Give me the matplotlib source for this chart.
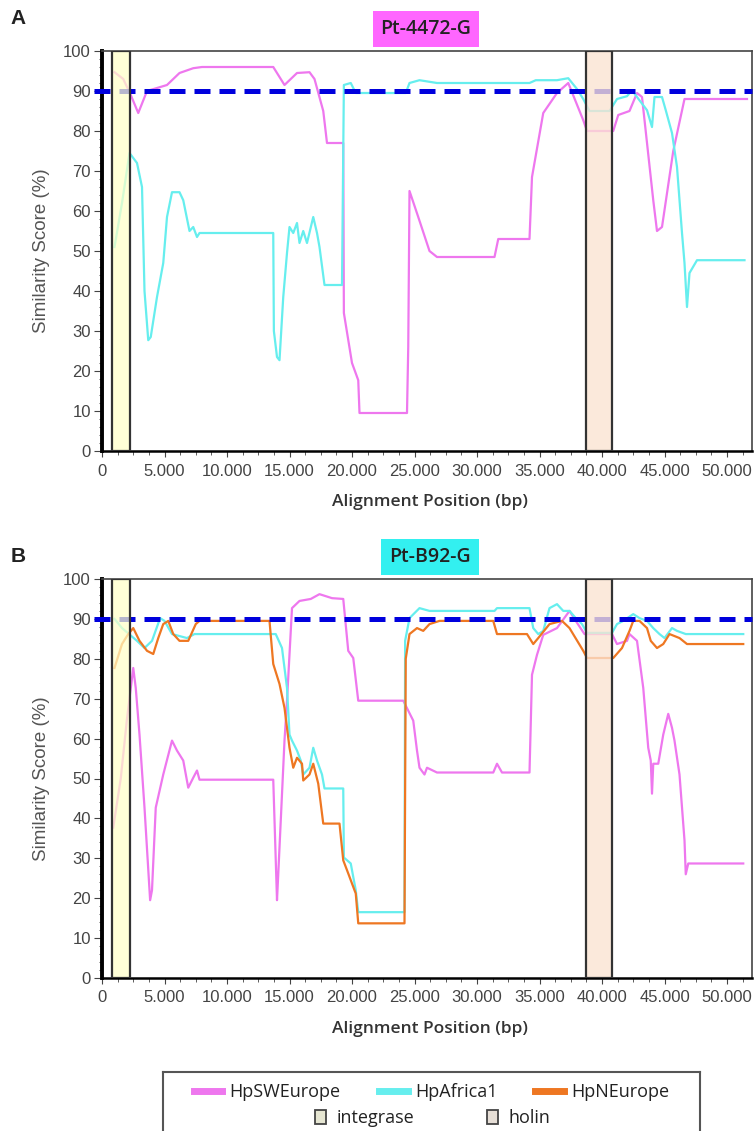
import numpy as np
import matplotlib
matplotlib.use("Agg")
import matplotlib.pyplot as plt
from matplotlib.patches import Rectangle, Patch
from matplotlib.lines import Line2D
from matplotlib.ticker import MultipleLocator, FuncFormatter
from matplotlib.colors import to_rgba

# DATA #
# (alignment position bp, similarity score %)
a_swe = [(1000, 94.7), (1700, 93), (2300, 89), (2900, 84.5), (3600, 90), (5200, 91.5),
         (6200, 94.5), (7300, 95.7), (8000, 96), (13700, 96), (14600, 91.5), (15600, 94.5),
         (16600, 94.7), (17000, 93), (17700, 85), (18000, 77), (19300, 77), (19350, 34.5),
         (20000, 22), (20500, 17.7), (20600, 9.5), (24400, 9.5), (24500, 26), (24600, 65),
         (25300, 58.5), (26200, 50), (26800, 48.5), (31400, 48.5), (31700, 53), (34200, 53),
         (34400, 68.5), (35300, 84.5), (36400, 89.5), (37300, 92), (38500, 82.7), (38800, 80),
         (40900, 80), (41300, 84), (42200, 85), (42800, 89.5), (43200, 88.5), (44100, 62.7),
         (44400, 55), (44800, 56), (45700, 75), (46600, 88), (51600, 88)]

a_afr = [(1000, 51), (1600, 62), (2200, 74.5), (2800, 72), (3200, 66), (3400, 40),
         (3700, 27.7), (3900, 28.5), (4400, 38.5), (4900, 47), (5200, 58.5), (5600, 64.7),
         (6200, 64.7), (6500, 62.7), (7000, 55), (7300, 56), (7600, 53.5), (7800, 54.5),
         (13700, 54.5), (13750, 30), (14000, 23.5), (14200, 22.7), (14500, 38.5), (14800, 49.5),
         (15000, 56), (15300, 54.5), (15600, 57), (15800, 52), (16100, 55), (16400, 52),
         (16900, 58.5), (17200, 54.5), (17400, 51), (17800, 41.5), (19200, 41.5), (19350, 91.5),
         (19900, 92), (20300, 89.5), (24300, 89.5), (24600, 92), (25400, 92.7), (26800, 92),
         (34200, 92), (34700, 92.7), (36400, 92.7), (37300, 93.2), (38000, 90.5), (38500, 88),
         (39000, 85), (40600, 85), (41200, 88), (42000, 88.7), (42400, 90.2), (42800, 88.5),
         (43600, 85.2), (44000, 81), (44200, 88.5), (44800, 88.5), (45100, 85.2), (45600, 79.5),
         (46000, 71), (46400, 54.5), (46600, 47), (46800, 36), (47000, 44.5), (47600, 47.7),
         (51400, 47.7)]

b_swe = [(900, 37.7), (1500, 50), (2000, 65), (2500, 77.7), (2700, 72.7), (3000, 61),
         (3400, 42.7), (3850, 19.5), (4000, 22), (4300, 42.7), (4900, 51), (5600, 59.5),
         (6000, 57), (6500, 54.5), (6900, 47.7), (7300, 50.2), (7600, 52), (7800, 49.7),
         (13700, 49.7), (14000, 19.5), (14100, 26), (14600, 59.5), (14800, 69.5), (15200, 92.7),
         (15800, 94.5), (16700, 95), (17400, 96.2), (18400, 95.2), (19300, 95), (19700, 82),
         (20100, 80.2), (20500, 69.5), (24100, 69.5), (24500, 67), (24900, 64.5), (25200, 57),
         (25400, 52.7), (25800, 51), (26000, 52.7), (26800, 51.5), (31300, 51.5), (31600, 53.7),
         (32000, 51.5), (34200, 51.5), (34400, 76), (34800, 81), (35300, 86), (36400, 87.7),
         (37400, 92), (37900, 89.5), (38600, 86.2), (40800, 86.2), (41200, 83.7), (42000, 84.5),
         (42200, 86.2), (42800, 84.5), (43300, 72.7), (43700, 57.7), (43900, 54.5), (44000, 46.2),
         (44100, 53.7), (44500, 53.7), (44900, 61), (45300, 66.2), (45600, 62.7), (45800, 59.5),
         (46200, 51), (46600, 34.5), (46700, 26), (46900, 28.7), (51300, 28.7)]

b_afr = [(1000, 90), (1600, 87.7), (2800, 84.5), (3400, 82.7), (4000, 84.5), (4650, 90.2),
         (5000, 89.5), (5600, 86.2), (6800, 85.2), (7400, 86.2), (13900, 86.2), (14400, 82.7),
         (14800, 72.7), (15000, 61), (15200, 59.5), (15600, 57), (15900, 54.5), (16100, 51),
         (16600, 52.7), (16900, 57.7), (17200, 54.5), (17600, 51), (17800, 47.5), (19300, 47.5),
         (19350, 30.2), (19900, 28.7), (20300, 22), (20500, 16.5), (24200, 16.5), (24250, 84.5),
         (24600, 90.2), (25400, 92.7), (26200, 92), (31400, 92), (31600, 92.7), (34200, 92.7),
         (34500, 87.7), (34900, 86.2), (35300, 87), (35800, 92.7), (36400, 93.7), (36900, 92),
         (37400, 92), (37900, 90.2), (38400, 88.7), (38800, 86.5), (40800, 86.5), (41200, 88.7),
         (41700, 89.5), (42500, 91.2), (43000, 90.2), (43600, 89.5), (44100, 87.7), (44600, 86.2),
         (45000, 85.2), (45600, 87.7), (46000, 87), (46700, 86.2), (51300, 86.2)]

b_neu = [(1000, 77.7), (1600, 83.7), (2100, 86.2), (2500, 87.7), (3000, 84.5), (3600, 82),
         (4100, 81.2), (4500, 85.2), (4900, 88.7), (5300, 89.5), (5700, 86.2), (6200, 84.5),
         (6900, 84.5), (7500, 88.7), (7800, 89.5), (13400, 89.5), (13700, 78.7), (14200, 73.7),
         (14600, 67.7), (15000, 57.7), (15300, 52.7), (15600, 55.2), (16000, 53.7), (16100, 49.5),
         (16600, 51), (16900, 53.7), (17300, 48.7), (17700, 38.7), (19000, 38.7), (19300, 29.5),
         (19700, 26.2), (20200, 22), (20300, 21.2), (20500, 13.7), (24200, 13.7), (24300, 80),
         (24600, 86.2), (25200, 87.7), (25700, 87), (26200, 88.7), (27000, 89.5), (31300, 89.5),
         (31600, 86.2), (34000, 86.2), (34500, 83.7), (34900, 85.2), (35800, 88.7), (36800, 89.5),
         (37400, 87.7), (38500, 82), (38800, 80.2), (40900, 80.2), (41600, 82.7), (42200, 87),
         (42500, 89.5), (43000, 89.5), (43600, 87.7), (43900, 84.5), (44400, 82.7), (44900, 83.7),
         (45400, 86.2), (46200, 85.2), (46800, 83.7), (51300, 83.7)]

# gene regions (bp) and threshold
integrase = (800, 2250)
holin = (38700, 40800)
threshold = 90

series_names = ['HpSWEurope', 'HpAfrica1', 'HpNEurope']
series_colors = ['#EE77EE', '#66EEEE', '#EE7722']

# PLOT #
fig = plt.figure(figsize=(7.55, 11.31), dpi=100)
W, H = 755, 1131


def fx(px):
    return px / W


def fy(py):
    return 1 - py / H


def setup_axis(ax):
    ax.set_xlim(0, 52000)
    ax.set_ylim(0, 100)
    ax.xaxis.set_major_locator(MultipleLocator(5000))
    ax.xaxis.set_minor_locator(MultipleLocator(1250))
    ax.yaxis.set_major_locator(MultipleLocator(10))
    ax.yaxis.set_minor_locator(MultipleLocator(2))
    ax.xaxis.set_major_formatter(FuncFormatter(lambda v, p: f"{int(v):,}".replace(",", ".")))
    ax.tick_params(which='both', colors='#444', labelsize=12, labelfontfamily='Liberation Sans')
    ax.tick_params(axis='x', which='major', length=4, pad=5)
    ax.tick_params(axis='x', which='minor', length=3)
    ax.tick_params(axis='y', which='major', length=6, pad=2)
    ax.tick_params(axis='y', which='minor', length=2.5)
    ax.spines['left'].set_linewidth(2.8)
    ax.spines['left'].set_color('black')
    ax.spines['bottom'].set_linewidth(1.8)
    ax.spines['bottom'].set_color('black')
    for s in ('top', 'right'):
        ax.spines[s].set_linewidth(1.2)
        ax.spines[s].set_color('#444')


def draw_panel(ax, series):
    for data, col in series:
        arr = np.array(data)
        ax.plot(arr[:, 0], arr[:, 1], color=col, lw=1.6, zorder=2)
    ax.axhline(threshold, xmin=-0.012, color='#0000DD', lw=3.6, dashes=(3.2, 1.8),
               zorder=3, clip_on=False)
    ax.add_patch(Rectangle((integrase[0], 0), integrase[1] - integrase[0], 100,
                           fc=to_rgba('#FFFFC8', 0.72), ec='#333', lw=1.6, zorder=4))
    ax.add_patch(Rectangle((holin[0], 0), holin[1] - holin[0], 100,
                           fc=to_rgba('#FBE3D2', 0.78), ec='#333', lw=1.6, zorder=4))
    setup_axis(ax)


axA = fig.add_axes([fx(102), fy(451), fx(650), 400 / H])
draw_panel(axA, [(a_swe, series_colors[0]), (a_afr, series_colors[1])])

axB = fig.add_axes([fx(102), fy(978), fx(650), 399 / H])
draw_panel(axB, [(b_swe, series_colors[0]), (b_afr, series_colors[1]), (b_neu, series_colors[2])])

# labels
for top, bottom, xl_y, tag_y, title, tcol, tx in [(51, 451, 502, 19, 'Pt-4472-G', '#FF66FF', 426),
                                                   (579, 978, 1029, 557, 'Pt-B92-G', '#33F0F0', 430)]:
    fig.text(fx(430), fy(xl_y), 'Alignment Position (bp)', ha='center', va='center',
             fontsize=12.5, family='Open Sans', weight='semibold', color='#333')
    fig.text(fx(42), fy((top + bottom) / 2), 'Similarity Score (%)', ha='center', va='center',
             rotation=90, fontsize=13.5, family='Liberation Sans', color='#555')
    fig.text(fx(18), fy(tag_y), 'A' if top < 300 else 'B', ha='center', va='center',
             fontsize=15, family='Liberation Sans', weight='bold', color='#222')
    fig.text(fx(tx), fy(top - 22), title, ha='center', va='center', fontsize=14,
             family='Open Sans', weight='semibold', color='#222',
             bbox=dict(boxstyle='square,pad=0.4', fc=tcol, ec='none'))

# legend
lax = fig.add_axes([fx(163), fy(1140), fx(537), 68 / H])
lax.set_xticks([])
lax.set_yticks([])
for s in lax.spines.values():
    s.set_color('#555')
    s.set_linewidth(1.5)

line_handles = [Line2D([], [], color=c, lw=5) for c in series_colors]
leg1 = fig.legend(line_handles, series_names, loc='center', ncol=3,
                  bbox_to_anchor=(fx(431.5), fy(1092)), frameon=False,
                  prop={'family': 'Open Sans', 'size': 13}, handlelength=1.6,
                  handletextpad=0.4, columnspacing=2.1, labelcolor='#222')
box_handles = [Patch(fc='#E6E6D2', ec='#444', lw=1.3), Patch(fc='#E6DED6', ec='#444', lw=1.3)]
leg2 = fig.legend(box_handles, ['integrase', 'holin'], loc='center', ncol=2,
                  bbox_to_anchor=(fx(433), fy(1118)), frameon=False,
                  prop={'family': 'Open Sans', 'size': 13}, handlelength=0.6,
                  handleheight=0.8, handletextpad=0.6, columnspacing=4.0, labelcolor='#222')

fig.savefig('out.png', dpi=100)
